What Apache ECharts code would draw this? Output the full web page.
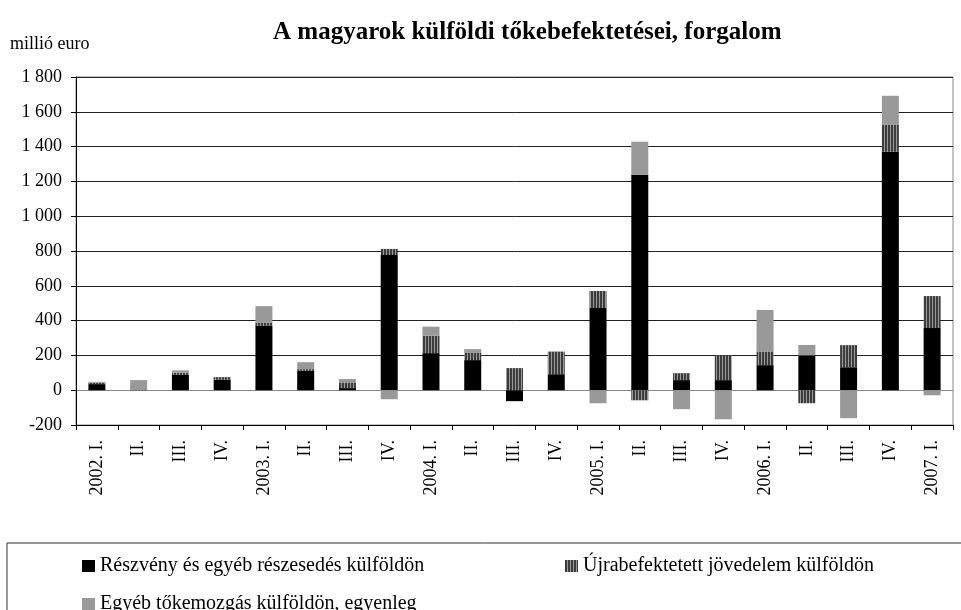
<!DOCTYPE html>
<html>
<head>
<meta charset="utf-8">
<script src="https://cdn.jsdelivr.net/npm/echarts@6/dist/echarts.min.js"></script>
<style>
	html,body{margin:0;padding:0;background:#fff;}
	#chart{width:961px;height:610px;}
</style>
</head>
<body>
<div id="chart"></div>
<script>
// negyedévek
var categories = ['2002. I.','II.','III.','IV.','2003. I.','II.','III.','IV.','2004. I.','II.','III.','IV.','2005. I.','II.','III.','IV.','2006. I.','II.','III.','IV.','2007. I.'];

// millió euro
var reszveny = [35, 0, 88, 60, 370, 111, 12, 777, 213, 173, -63, 92, 472, 1238, 58, 58, 144, 200, 132, 1370, 357];
var ujrabef  = [8, -3, 13, 15, 19, 10, 33, 35, 100, 44, 127, 130, 98, -58, 40, 142, 79, -75, 127, 157, 184];
var egyeb    = [5, 58, 13, 0, 94, 40, 19, -52, 52, 19, 0, 0, -75, 190, -109, -167, 238, 60, -161, 165, -29];

var yTicks = [-200, 0, 200, 400, 600, 800, 1000, 1200, 1400, 1600, 1800];

var seriesNames = ['Részvény és egyéb részesedés külföldön','Újrabefektetett jövedelem külföldön','Egyéb tőkemozgás külföldön, egyenleg'];

var font = '"Liberation Serif", "DejaVu Serif", serif';

// csíkos minta az újrabefektetett jövedelemhez
function stripePattern(){
	var c = document.createElement('canvas');
	c.width = 3; c.height = 6;
	var ctx = c.getContext('2d');
	ctx.fillStyle = '#9a9a9a';
	ctx.fillRect(0,0,3,6);
	ctx.fillStyle = '#3c3c3c';
	ctx.fillRect(0,0,2,6);
	return c;
}
var stripe = {image: stripePattern(), repeat: 'repeat'};

var chart = echarts.init(document.getElementById('chart'));

var gridColors = yTicks.map(function(v){ return v === 0 ? '#888' : '#222'; });

var option = {
	animation: false,
	textStyle: {fontFamily: font},
	title: {
		text: 'A magyarok külföldi tőkebefektetései, forgalom',
		left: 268, top: 15,
		textStyle: {fontFamily: font, fontSize: 25, fontWeight: 'bold', color: '#000'}
	},
	graphic: [
		{type: 'text', left: 10, top: 35, style: {text: 'millió euro', font: '18px ' + font, fill: '#000'}},
		{type: 'rect', shape: {x: 7, y: 543, width: 970, height: 80}, style: {fill: 'none', stroke: '#333', lineWidth: 1}}
	],
	legend: [
		{data: [seriesNames[0]], left: 77, top: 551},
		{data: [seriesNames[1]], left: 560, top: 551},
		{data: [seriesNames[2]], left: 77, top: 589}
	].map(function(l){
		l.itemWidth = 13; l.itemHeight = 12; l.itemGap = 3;
		l.textStyle = {fontFamily: font, fontSize: 20, color: '#000', padding: [0,0,0,0]};
		l.icon = 'rect';
		l.selectedMode = false;
		return l;
	}),
	grid: {left: 76, right: 8, top: 77, bottom: 185, show: true, borderColor: '#888', borderWidth: 1},
	xAxis: {
		type: 'category',
		data: categories,
		axisLine: {onZero: false, lineStyle: {color: '#000', width: 1}},
		axisTick: {show: true, length: 5, lineStyle: {color: '#000'}},
		axisLabel: {rotate: 90, margin: 15, fontFamily: font, fontSize: 18, color: '#000', interval: 0}
	},
	yAxis: {
		type: 'value',
		min: -200, max: 1800, interval: 200,
		axisLine: {show: true, lineStyle: {color: '#000'}},
		axisTick: {show: true, length: 5, lineStyle: {color: '#000'}},
		axisLabel: {
			margin: 14, fontFamily: font, fontSize: 18, color: '#000',
			formatter: function(v){ return String(v).replace(/\B(?=(\d{3})+(?!\d))/g, ' '); }
		},
		splitLine: {show: true, lineStyle: {color: gridColors, width: 1}}
	},
	series: [
		{name: seriesNames[0], type: 'bar', stack: 'a', barWidth: 17, data: reszveny, itemStyle: {color: '#000'}},
		{name: seriesNames[1], type: 'bar', stack: 'a', barWidth: 17, data: ujrabef, itemStyle: {color: stripe}},
		{name: seriesNames[2], type: 'bar', stack: 'a', barWidth: 17, data: egyeb, itemStyle: {color: '#999'}}
	]
};
chart.setOption(option);
</script>
</body>
</html>
